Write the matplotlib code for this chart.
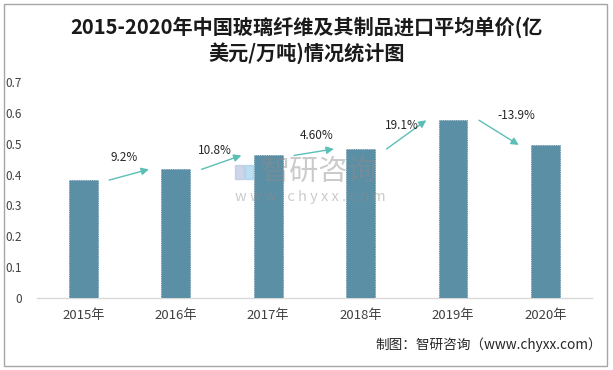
import matplotlib
matplotlib.use('Agg')
import matplotlib.pyplot as plt
import matplotlib.patches as mpatches

plt.rcParams['font.family'] = ['Noto Sans CJK SC', 'DejaVu Sans']

YEARS   = ['2015年', '2016年', '2017年', '2018年', '2019年', '2020年']
PRICES  = [0.382, 0.417, 0.462, 0.483, 0.576, 0.496]
GROWTH  = ['9.2%', '10.8%', '4.60%', '19.1%', '-13.9%']
Y_TICKS = [0, 0.1, 0.2, 0.3, 0.4, 0.5, 0.6, 0.7]

BAR_COLOR   = '#5B8FA6'
ARROW_COLOR = '#5BBFB5'
TEXT_COLOR  = '#404040'

# label offsets relative to arrow midpoint (style only)
LABEL_DX = [-0.06, -0.08, 0.02, -0.05, 0.18]
LABEL_DY = [0.057, 0.040, 0.053, 0.030, 0.055]

fig = plt.figure(figsize=(6.13, 3.70), dpi=100)
ax = fig.add_axes([0.0604, 0.1946, 0.905, 0.5838])

x = range(len(YEARS))
ax.bar(x, PRICES, width=0.31, color=BAR_COLOR, edgecolor='#4F7F99',
       linewidth=0.6, linestyle=':', zorder=3)

ax.set_xlim(-0.5, len(YEARS) - 0.5)
ax.set_ylim(0, 0.7)
ax.set_yticks(Y_TICKS)
ax.set_yticklabels(['0' if t == 0 else f'{t:.1f}' for t in Y_TICKS],
                   fontsize=8.5, color=TEXT_COLOR)
ax.set_xticks(list(x))
ax.set_xticklabels(YEARS, fontsize=9.5, color=TEXT_COLOR)
ax.tick_params(axis='both', length=0)
ax.tick_params(axis='y', pad=11)
ax.tick_params(axis='x', pad=8)
for s in ['top', 'right', 'left']:
    ax.spines[s].set_visible(False)
ax.spines['bottom'].set_color('#d9d9d9')
ax.spines['bottom'].set_linewidth(1.0)

# growth arrows between bars
for i, g in enumerate(GROWTH):
    ax.annotate('', xy=(i + 0.71, PRICES[i + 1]), xytext=(i + 0.28, PRICES[i]),
                arrowprops=dict(arrowstyle='-|>', color=ARROW_COLOR, lw=1.0,
                                mutation_scale=11, shrinkA=0, shrinkB=0),
                zorder=4)
    mid = (PRICES[i] + PRICES[i + 1]) / 2
    ax.text(i + 0.5 + LABEL_DX[i], mid + LABEL_DY[i], g, ha='center', va='center',
            fontsize=8.5, color='#262626', zorder=4)

# watermark (semi-transparent, over bars)
wm = dict(transform=fig.transFigure, color='#8c8c8c', alpha=0.45, zorder=5)
ax.text(0.425, 0.535, '智研咨询', fontsize=21, ha='left', va='center', **wm)
ax.text(0.383, 0.467, 'w w w . c h y x x . c o m', fontsize=10.5,
        ha='left', va='center', **wm)
ax.add_patch(mpatches.Rectangle((0.384, 0.515), 0.014, 0.038, transform=fig.transFigure,
                                color='#b8c4e0', alpha=0.7, zorder=5, clip_on=False))
ax.add_patch(mpatches.Rectangle((0.400, 0.515), 0.013, 0.038, transform=fig.transFigure,
                                color='#9fd0ea', alpha=0.7, zorder=5, clip_on=False))

fig.text(0.5, 0.927, '2015-2020年中国玻璃纤维及其制品进口平均单价(亿', ha='center',
         va='center', fontsize=14.5, fontweight='bold', color='#1a1a1a')
fig.text(0.5, 0.857, '美元/万吨)情况统计图', ha='center', va='center',
         fontsize=14.5, fontweight='bold', color='#1a1a1a')

fig.text(0.982, 0.068, '制图：智研咨询（www.chyxx.com）', ha='right', va='center',
         fontsize=9.8, color='#262626')

fig.patches.append(mpatches.Rectangle((0.006, 0.011), 0.984, 0.977, transform=fig.transFigure,
                                      fill=False, edgecolor='#a6a6a6', linewidth=1.0))

fig.savefig('out.png', dpi=100)
